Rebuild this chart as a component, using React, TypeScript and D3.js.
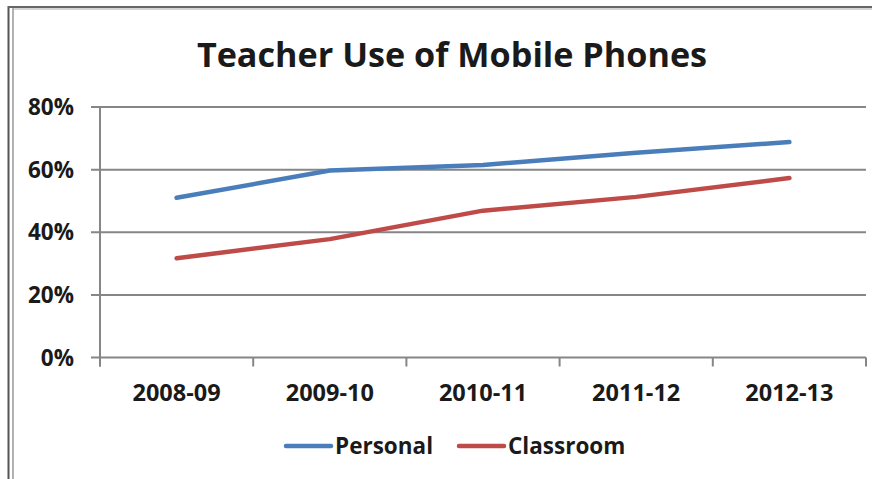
import React from "react";
import * as d3 from "d3";

const categories = ["2008-09", "2009-10", "2010-11", "2011-12", "2012-13"];
const personal = [51, 59.7, 61.5, 65.4, 68.8];
const classroom = [31.7, 37.8, 46.9, 51.3, 57.3];
const yTicks = [0, 20, 40, 60, 80];
const seriesNames = ["Personal", "Classroom"];
const colors = ["#4A7EBB", "#BE4B48"];

const W = 872;
const H = 479;
const left = 100;
const right = 866;
const top = 107;
const bottom = 357.5;
const FONT = "'Open Sans', Lato, sans-serif";

export default function App() {
  const x = d3.scaleBand<string>().domain(categories).range([left, right]);
  const y = d3.scaleLinear().domain([0, 80]).range([bottom, top]);
  const line = d3
    .line<number>()
    .x((_, i) => (x(categories[i]) as number) + x.bandwidth() / 2)
    .y((d) => y(d));
  const series = [personal, classroom];
  const tickXs = [...categories.map((c) => x(c) as number), right];

  return (
    <svg
      width={W}
      height={H}
      style={{ position: "absolute", left: 0, top: 0 }}
      fontFamily={FONT}
    >
      <rect x={0} y={0} width={W} height={H} fill="#fff" />
      {/* frame */}
      <line x1={8.5} x2={8.5} y1={6} y2={H} stroke="#555" strokeWidth={2} />
      <line x1={13} x2={13} y1={8} y2={H} stroke="#999" strokeWidth={1.5} />
      <line x1={8} x2={W} y1={7} y2={7} stroke="#666" strokeWidth={2} />
      <line x1={13} x2={W} y1={9} y2={9} stroke="#aaa" strokeWidth={1} />

      <text
        x={452}
        y={66.5}
        textAnchor="middle"
        fontSize={34.2}
        fontWeight="bold"
        fill="#1a1a1a"
      >
        Teacher Use of Mobile Phones
      </text>

      {yTicks.map((t) => (
        <g key={t}>
          <line
            x1={left - 9}
            x2={right}
            y1={y(t)}
            y2={y(t)}
            stroke="#868686"
            strokeWidth={2}
          />
          <text
            x={74}
            y={y(t)}
            dy="0.36em"
            textAnchor="end"
            fontSize={22.5}
            fontWeight="bold"
            fill="#1a1a1a"
          >
            {t}%
          </text>
        </g>
      ))}
      <line x1={left} x2={left} y1={top} y2={bottom + 9} stroke="#868686" strokeWidth={2} />
      {tickXs.map((tx, i) => (
        <line key={i} x1={tx} x2={tx} y1={bottom} y2={bottom + 9} stroke="#868686" strokeWidth={2} />
      ))}
      {categories.map((c) => (
        <text
          key={c}
          x={(x(c) as number) + x.bandwidth() / 2}
          y={401}
          textAnchor="middle"
          fontSize={23.5}
          fontWeight="bold"
          fill="#1a1a1a"
        >
          {c}
        </text>
      ))}

      {series.map((s, i) => (
        <path
          key={i}
          d={line(s) || ""}
          fill="none"
          stroke={colors[i]}
          strokeWidth={4.5}
          strokeLinecap="round"
          strokeLinejoin="round"
        />
      ))}

      {seriesNames.map((n, i) => {
        const lx = i === 0 ? 286 : 459;
        return (
          <g key={n}>
            <line
              x1={lx}
              x2={lx + 45}
              y1={446}
              y2={446}
              stroke={colors[i]}
              strokeWidth={4.5}
              strokeLinecap="round"
            />
            <text
              x={lx + 49}
              y={446}
              dy="0.36em"
              fontSize={22.5}
              fontWeight="bold"
              fill="#1a1a1a"
            >
              {n}
            </text>
          </g>
        );
      })}
    </svg>
  );
}
